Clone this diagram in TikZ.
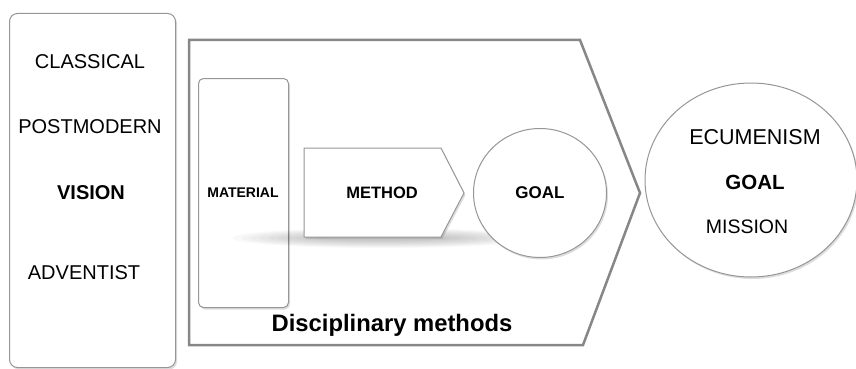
\documentclass[tikz,border=0pt]{standalone}
\usepackage{fontspec}
\setmainfont{Liberation Sans}
\usetikzlibrary{shadows,shapes.geometric}
\definecolor{edge}{RGB}{135,135,135}
\definecolor{thinedge}{RGB}{150,150,150}
\tikzset{
  lbl/.style={font=\fontsize{20}{22}\selectfont, inner sep=0pt},
  blbl/.style={font=\fontsize{20}{22}\selectfont\bfseries, inner sep=0pt},
  sblbl/.style={font=\fontsize{16.5}{18}\selectfont\bfseries, inner sep=0pt},
  boxshadow/.style={drop shadow={shadow xshift=1.5pt,shadow yshift=-2pt,opacity=0.22,fill=black!60}},
  thinbox/.style={draw=thinedge, line width=1pt, fill=white},
}
\begin{document}
\begin{tikzpicture}[x=1pt,y=-1pt]
\useasboundingbox (0,0) rectangle (856,369);
% left vision box
\node[thinbox, rounded corners=8pt, minimum width=166pt, minimum height=354pt, anchor=north west, inner sep=0pt, boxshadow] (vision) at (9,13) {};
\node[lbl] (classical) at (90,62) {CLASSICAL};
\node[lbl] (postmodern) at (90,127) {POSTMODERN};
\node[blbl] (visiont) at (91,193) {VISION};
\node[lbl] (adventist) at (84,273) {ADVENTIST};
% chevron frame
\draw[draw=edge, line width=2.5pt, line join=miter] (189,40) -- (580,40) -- (640,193) -- (583,345) -- (189,345) -- cycle;
\node[font=\fontsize{23.8}{25}\selectfont\bfseries, inner sep=0pt] (disc) at (392,325) {Disciplinary methods};
% material
\node[thinbox, rounded corners=5pt, minimum width=90pt, minimum height=229pt, anchor=north west, inner sep=0pt, boxshadow] (material) at (198,78) {};
\node[font=\fontsize{14}{16}\selectfont\bfseries, inner sep=0pt] (materialt) at (243,193) {MATERIAL};
% soft shadow band
\foreach \i in {0,...,9}{\fill[black, opacity=0.022] (382,238) ellipse ({150-\i*9} and {10-\i*0.8});}
% method
\filldraw[draw=thinedge, line width=1pt, fill=white, boxshadow] (304,148) -- (441,148) -- (464,193) -- (441,237) -- (304,237) -- cycle;
\node[sblbl] (method) at (382,193) {METHOD};
% goal circle
\node[thinbox, ellipse, minimum width=133pt, minimum height=129pt, inner sep=0pt, boxshadow] (goal) at (540,193) {};
\node[font=\fontsize{17}{19}\selectfont\bfseries, inner sep=0pt] (goalt) at (540,193) {GOAL};
% right ellipse
\node[thinbox, ellipse, minimum width=212pt, minimum height=194pt, inner sep=0pt, boxshadow] (outer) at (751,180) {};
\node[font=\fontsize{21.5}{23}\selectfont, inner sep=0pt] (ecum) at (755,137) {ECUMENISM};
\node[font=\fontsize{20.5}{22}\selectfont\bfseries, inner sep=0pt] (goal2) at (755,182) {GOAL};
\node[font=\fontsize{19.5}{21}\selectfont, inner sep=0pt] (mission) at (747,227) {MISSION};
\end{tikzpicture}
\end{document}
